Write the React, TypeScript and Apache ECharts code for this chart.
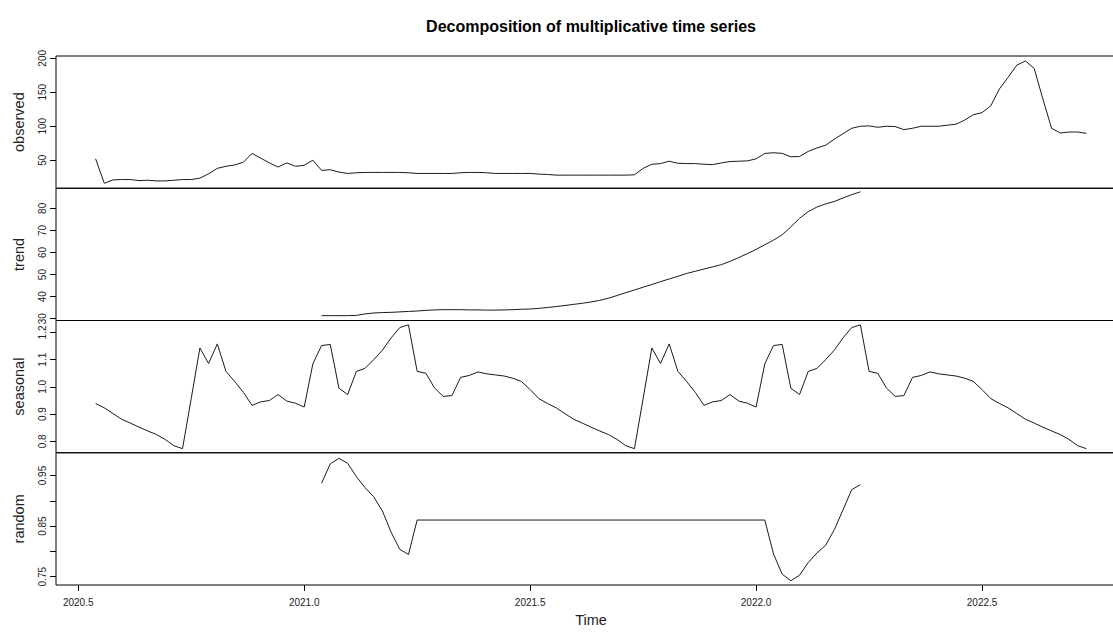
import React, { useEffect, useRef } from "react";
import * as echarts from "echarts";

// Weekly time series: start = 2020 + 28/52, frequency 52
const START = 2020 + 28 / 52;
const FREQ = 52;

const TITLE = "Decomposition of multiplicative time series";
const panelNames = ["observed", "trend", "seasonal", "random"];

const observed = [
  52, 16, 21, 21.5, 21.5, 20, 20.5, 19.5, 19.5, 20.5,
  21.5, 21.5, 23.5, 30, 38, 41, 43, 47, 60, 53,
  46, 40, 46, 41, 42.5, 50, 35, 36, 32.5, 30.5,
  31.5, 32, 32, 32, 32, 32, 31.5, 30.5, 30.5, 30.5,
  30.5, 30.5, 31.5, 32, 32, 31.5, 30.5, 30.5, 30.5, 30.5,
  30.5, 29.5, 29, 28, 28, 28, 28, 28, 28, 28,
  28, 28, 28.5, 38, 44, 45, 48.5, 45.5, 45, 45,
  44, 43.5, 46, 48, 48.5, 49, 52, 60, 61, 60,
  55, 55.5, 63, 68, 72, 81, 89, 97, 100, 100.5,
  98.5, 100, 99.5, 95, 97, 100, 100, 100, 101.5, 103,
  109, 117, 120, 130, 155, 172, 190, 196, 185, 140,
  97, 90, 91.5, 91.5, 89.5,
];

const trendStart = 26;
const trend = [
  31.4, 31.4, 31.4, 31.4, 31.5,
  32.2, 32.6, 32.8, 32.9, 33.1, 33.3, 33.5, 33.8, 34.0, 34.1,
  34.1, 34.1, 34.0, 34.0, 33.9, 33.9, 34.0, 34.1, 34.3, 34.4,
  34.7, 35.1, 35.5, 36.0, 36.5, 37.0, 37.6, 38.3, 39.3, 40.5,
  41.8, 43.0, 44.3, 45.5, 46.8, 48.0, 49.2, 50.5, 51.5, 52.5,
  53.5, 54.5, 56.0, 57.7, 59.5, 61.4, 63.5, 65.6, 68.0, 71.6,
  75.5, 78.5, 80.6, 82.0, 83.1, 84.7, 86.2, 87.5,
];

const seasonal = [
  0.939, 0.923, 0.902, 0.881, 0.867, 0.852, 0.838, 0.825, 0.807, 0.784,
  0.773, 0.957, 1.143, 1.086, 1.158, 1.057, 1.020, 0.980, 0.932, 0.945,
  0.950, 0.972, 0.948, 0.940, 0.926, 1.085, 1.152, 1.156, 0.995, 0.972,
  1.057, 1.068, 1.100, 1.135, 1.180, 1.218, 1.228, 1.057, 1.050, 0.996,
  0.965, 0.968, 1.035, 1.042, 1.055, 1.048, 1.044, 1.040, 1.032, 1.020,
  0.990, 0.957,
  0.939, 0.923, 0.902, 0.881, 0.867, 0.852, 0.838, 0.825, 0.807, 0.784,
  0.773, 0.957, 1.143, 1.086, 1.158, 1.057, 1.020, 0.980, 0.932, 0.945,
  0.950, 0.972, 0.948, 0.940, 0.926, 1.085, 1.152, 1.156, 0.995, 0.972,
  1.057, 1.068, 1.100, 1.135, 1.180, 1.218, 1.228, 1.057, 1.050, 0.996,
  0.965, 0.968, 1.035, 1.042, 1.055, 1.048, 1.044, 1.040, 1.032, 1.020,
  0.990, 0.957,
  0.939, 0.923, 0.902, 0.881, 0.867, 0.852, 0.838, 0.825, 0.807, 0.784,
  0.773,
];

const randomStart = 26;
const random = [
  0.935, 0.973, 0.984, 0.974, 0.948, 0.926, 0.908, 0.880, 0.838, 0.804,
  0.794,
  0.862, 0.862, 0.862, 0.862, 0.862, 0.862, 0.862, 0.862, 0.862, 0.862,
  0.862, 0.862, 0.862, 0.862, 0.862, 0.862, 0.862, 0.862, 0.862, 0.862,
  0.862, 0.862, 0.862, 0.862, 0.862, 0.862, 0.862, 0.862, 0.862, 0.862,
  0.862, 0.862, 0.862, 0.862, 0.862, 0.862, 0.862, 0.862, 0.862, 0.862,
  0.862,
  0.795, 0.755, 0.742, 0.753, 0.778, 0.797, 0.812, 0.843, 0.882, 0.922,
  0.932,
];

const xTicks = [2020.5, 2021.0, 2021.5, 2022.0, 2022.5];
const observedTicks = [50, 100, 150, 200];
const trendTicks = [30, 40, 50, 60, 70, 80];
const seasonalTicks = [0.8, 0.9, 1.0, 1.1, 1.2];
const randomTicks = [0.75, 0.8, 0.85, 0.9, 0.95];
const randomLabels = [0.75, 0.85, 0.95];

const FONT = '"Liberation Sans", Arial, Helvetica, sans-serif';

function pairs(values: number[], offset: number) {
  return values.map((v, i) => [START + (offset + i) / FREQ, v]);
}

export default function App() {
  const ref = useRef<HTMLDivElement>(null);

  useEffect(() => {
    if (!ref.current) return;
    const chart = echarts.init(ref.current, undefined, { renderer: "svg" });

    const xMin = 2020.4508;
    const xMax = 2022.8185;
    const top0 = 56;
    const h = 132.25;
    const yRanges = [
      [8.7, 203.4],
      [29.2, 89.1],
      [0.758, 1.244],
      [0.7336, 0.995],
    ];
    const tickSets = [observedTicks, trendTicks, seasonalTicks, randomTicks];
    const labelSets = [observedTicks, trendTicks, seasonalTicks, randomLabels];
    const fmts = [
      (v: number) => String(v),
      (v: number) => String(v),
      (v: number) => v.toFixed(1),
      (v: number) => v.toFixed(2),
    ];

    const grid = [0, 1, 2, 3].map((k) => ({
      left: 56,
      width: 1070,
      top: top0 + k * h,
      height: h,
      show: true,
      borderColor: "#000",
      borderWidth: 1,
      backgroundColor: "transparent",
    }));

    const xAxis = [0, 1, 2, 3].map((k) => ({
      type: "value",
      gridIndex: k,
      min: xMin,
      max: xMax,
      axisLine: { show: false },
      splitLine: { show: false },
      axisTick: {
        show: k === 3,
        customValues: xTicks,
        length: 6,
        lineStyle: { color: "#000", width: 1 },
      },
      axisLabel: {
        show: k === 3,
        customValues: xTicks,
        formatter: (v: number) => v.toFixed(1),
        fontSize: 10,
        color: "#222",
        margin: 12,
        fontFamily: FONT,
      },
      name: k === 3 ? "Time" : "",
      nameLocation: "middle",
      nameGap: 27,
      nameTextStyle: { fontSize: 14.5, color: "#222", fontFamily: FONT },
    }));

    const yAxis = [0, 1, 2, 3].map((k) => ({
      type: "value",
      gridIndex: k,
      min: yRanges[k][0],
      max: yRanges[k][1],
      axisLine: { show: false },
      splitLine: { show: false },
      axisTick: {
        show: true,
        customValues: tickSets[k],
        length: 6,
        lineStyle: { color: "#000", width: 1 },
      },
      axisLabel: {
        customValues: labelSets[k],
        formatter: fmts[k],
        rotate: 90,
        fontSize: 10,
        color: "#222",
        margin: 9,
        fontFamily: FONT,
      },
      name: panelNames[k],
      nameLocation: "middle",
      nameGap: 30,
      nameTextStyle: { fontSize: 14.5, color: "#222", fontFamily: FONT },
    }));

    const lineStyle = { color: "#1a1a1a", width: 1 };
    const datasets = [
      pairs(observed, 0),
      pairs(trend, trendStart),
      pairs(seasonal, 0),
      pairs(random, randomStart),
    ];
    const series = datasets.map((d, k) => ({
      type: "line",
      name: panelNames[k],
      xAxisIndex: k,
      yAxisIndex: k,
      data: d,
      showSymbol: false,
      symbol: "none",
      lineStyle,
      silent: true,
    }));

    chart.setOption({
      animation: false,
      textStyle: { fontFamily: FONT },
      grid,
      xAxis,
      yAxis,
      series,
      graphic: [
        {
          type: "text",
          x: 591,
          y: 26,
          style: {
            text: TITLE,
            fontSize: 16,
            fontWeight: "bold",
            fontFamily: FONT,
            fill: "#000",
            align: "center",
            verticalAlign: "middle",
          },
        },
      ],
    });

    return () => chart.dispose();
  }, []);

  return (
    <div
      style={{
        position: "fixed",
        left: 0,
        top: 0,
        width: 1113,
        height: 632,
        overflow: "hidden",
        background: "#fff",
      }}
    >
      <div
        ref={ref}
        style={{ position: "absolute", left: 0, top: 0, width: 1140, height: 632 }}
      />
    </div>
  );
}
